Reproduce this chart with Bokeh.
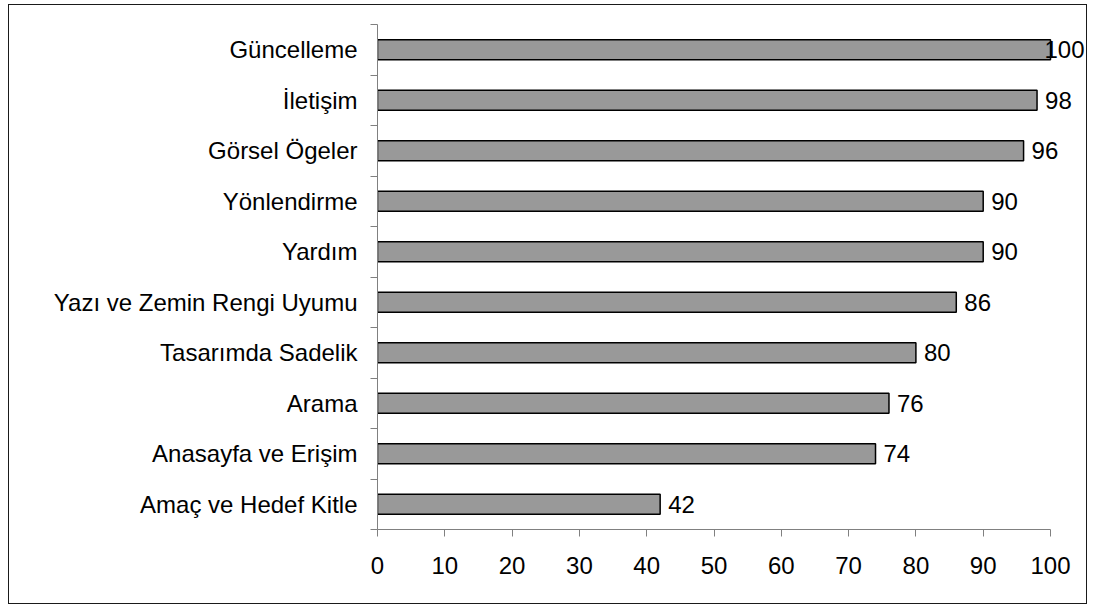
from bokeh.plotting import figure
from bokeh.models import Range1d, FixedTicker, ColumnDataSource, Label
from bokeh.embed import file_html
from bokeh.resources import INLINE

categories = ["Güncelleme", "İletişim", "Görsel Ögeler", "Yönlendirme", "Yardım",
              "Yazı ve Zemin Rengi Uyumu", "Tasarımda Sadelik", "Arama",
              "Anasayfa ve Erişim", "Amaç ve Hedef Kitle"]
values = [100, 98, 96, 90, 90, 86, 80, 76, 74, 42]
x_ticks = [0, 10, 20, 30, 40, 50, 60, 70, 80, 90, 100]

n = len(categories)
ypos = [n - 1 - i for i in range(n)]
src = ColumnDataSource(dict(y=ypos, v=values))

# axis runs 0..100 over 673 px; the frame continues to the right edge (711 px)
x_lo, x_hi = x_ticks[0], x_ticks[-1]
x_end = x_lo + (x_hi - x_lo) * 711 / 673

p = figure(width=1079, height=600, output_backend="svg", toolbar_location=None,
           x_range=Range1d(x_lo, x_end), y_range=Range1d(-0.5, n - 0.5),
           min_border_left=368, min_border_right=0, min_border_top=19,
           min_border_bottom=76)
p.styles = {"border": "1px solid #1a1a1a", "margin-left": "8px", "margin-top": "4px"}
p.outline_line_color = None
p.xgrid.visible = False
p.ygrid.visible = False

p.hbar(y="y", left=0, right="v", height=0.4, fill_color="#999999",
       line_color="black", line_width=1.5, source=src)

for yv, v in zip(ypos, values):
    p.add_layout(Label(x=v, y=yv, text=str(v), x_offset=(-6 if v >= x_hi else 8),
                       text_baseline="middle", text_align="left",
                       text_font="Liberation Sans", text_font_size="24px",
                       text_color="black"))

ya = p.yaxis[0]
ya.ticker = FixedTicker(ticks=ypos, minor_ticks=[k - 0.5 for k in range(n + 1)])
ya.major_label_overrides = {y: c for y, c in zip(ypos, categories)}
ya.major_tick_out = 0
ya.major_tick_in = 0
ya.minor_tick_out = 7
ya.minor_tick_in = 0
ya.minor_tick_line_color = "#808080"
ya.axis_line_color = "#808080"
ya.major_label_standoff = 13
ya.major_label_text_font = "Liberation Sans"
ya.major_label_text_font_size = "24px"
ya.major_label_text_color = "black"

xa = p.xaxis[0]
xa.bounds = (x_lo, x_hi)
xa.ticker = FixedTicker(ticks=x_ticks, minor_ticks=[])
xa.major_tick_out = 7
xa.major_tick_in = 0
xa.major_tick_line_color = "#808080"
xa.axis_line_color = "#808080"
xa.major_label_standoff = 20
xa.major_label_text_font = "Liberation Sans"
xa.major_label_text_font_size = "24px"
xa.major_label_text_color = "black"

open("out.html", "w").write(file_html(p, INLINE))
